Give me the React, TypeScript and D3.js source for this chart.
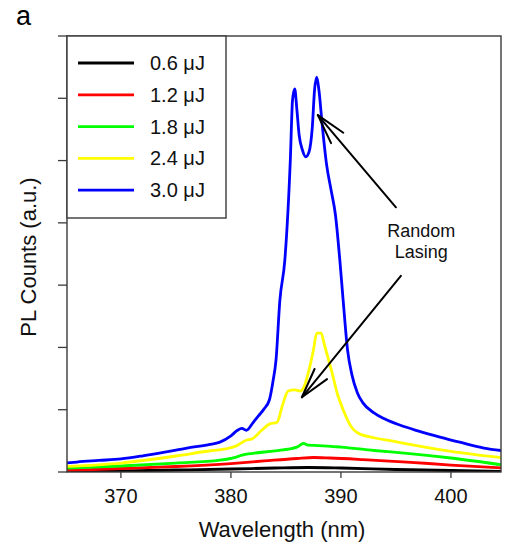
import React from 'react';
import * as d3 from 'd3';

// spectra: wavelength (nm) and PL counts (a.u., one unit per y tick)
const wl060 = [365, 370, 375, 380, 384, 387, 390, 395, 400, 404.8];
const pl060 = [0.008, 0.016, 0.032, 0.048, 0.064, 0.072, 0.064, 0.04, 0.024, 0.008];

const wl120 = [365, 370, 375, 380, 383, 386, 387.5, 389, 392, 396, 400, 404.8];
const pl120 = [0.024, 0.056, 0.088, 0.136, 0.177, 0.217, 0.233, 0.225, 0.2, 0.16, 0.112, 0.064];

const wl180 = [365, 370, 375, 379, 380.5, 381, 382, 384, 386, 386.6, 387, 388, 390, 393, 396, 400, 404.8];
const pl180 = [0.064, 0.096, 0.144, 0.19, 0.24, 0.27, 0.3, 0.34, 0.4, 0.46, 0.43, 0.425, 0.4, 0.345, 0.3, 0.225, 0.11];

const wl240 = [365, 370, 375, 378, 379.5, 380.5, 381.4, 381.9, 382.8, 383.5, 384.2, 384.7, 385.2, 385.8, 386.3, 386.6,
  387.1, 387.5, 387.8, 388.2, 388.5, 389.2, 389.7, 390.2, 391, 391.5, 393, 394.6, 397, 400, 404.8];
const pl240 = [0.088, 0.144, 0.257, 0.337, 0.37, 0.42, 0.51, 0.53, 0.67, 0.77, 0.8, 1.08, 1.3, 1.32, 1.3, 1.35,
  1.64, 1.96, 2.23, 2.23, 2.04, 1.59, 1.24, 1.0, 0.71, 0.63, 0.55, 0.5, 0.42, 0.33, 0.225];

const wl300 = [365, 366, 368, 370, 372, 374, 376, 378, 379, 380, 380.6, 381, 381.4, 382, 382.5, 383, 383.5, 383.8,
  384.1, 384.45, 384.9, 385.4, 385.6, 385.8, 386, 386.2, 386.5, 386.8, 387.1, 387.4, 387.6, 387.8, 388, 388.3,
  388.7, 389.1, 389.5, 389.9, 390.2, 390.6, 391, 391.5, 392, 393, 394, 395.4, 397, 399, 401, 403, 404.8];
const pl300 = [0.144, 0.16, 0.185, 0.21, 0.26, 0.32, 0.385, 0.44, 0.48, 0.58, 0.67, 0.7, 0.67, 0.79, 0.9, 1.01, 1.16, 1.43,
  1.8, 2.76, 3.4, 5.01, 5.97, 6.15, 5.81, 5.41, 5.17, 5.06, 5.14, 5.54, 6.13, 6.34, 6.13, 5.57,
  4.93, 4.53, 4.13, 3.4, 2.76, 1.96, 1.56, 1.27, 1.11, 0.95, 0.85, 0.75, 0.66, 0.56, 0.47, 0.385, 0.34];

const energies = ['0.6 μJ', '1.2 μJ', '1.8 μJ', '2.4 μJ', '3.0 μJ'];
const colors = ['#000000', '#ff0000', '#00ff00', '#ffff00', '#0000ff'];
const xTicks = [370, 380, 390, 400];
const yTicks = [0, 1, 2, 3, 4, 5, 6, 7];

// annotation arrows: [from, to] in data units
const arrows = [
  [[395.0, 4.25], [387.9, 5.73]],
  [[395.45, 3.15], [386.45, 1.2]],
];
const noteLines = ['Random', 'Lasing'];

const font = '"Liberation Sans", Arial, sans-serif';

export default function App() {
  const width = 505;
  const height = 542;
  const margin = { left: 67, top: 36, right: 4, bottom: 70 };

  const x = d3.scaleLinear().domain([365.1, 404.55]).range([margin.left, width - margin.right]);
  const y = d3.scaleLinear().domain([0, 7]).range([height - margin.bottom, margin.top]);

  const series = [
    [wl060, pl060],
    [wl120, pl120],
    [wl180, pl180],
    [wl240, pl240],
    [wl300, pl300],
  ];

  const line = d3.line<[number, number]>()
    .x(d => x(d[0]))
    .y(d => y(d[1]))
    .curve(d3.curveMonotoneX);

  const x0 = margin.left;
  const x1 = width - margin.right;
  const y0 = height - margin.bottom;
  const y1 = margin.top;

  const arrowHead = (from, to) => {
    const tx = x(to[0]), ty = y(to[1]);
    const ang = Math.atan2(y(from[1]) - ty, x(from[0]) - tx);
    const len = 31, spread = 15 * Math.PI / 180;
    return [ang - spread, ang + spread].map(a =>
      `M${tx + len * Math.cos(a)},${ty + len * Math.sin(a)}L${tx},${ty}`).join('');
  };

  const leg = { x: x0, y: y1, w: 159, h: 182, row: 31.8 };

  return (
    <svg width={width} height={height} style={{ position: 'absolute', left: 0, top: 0, background: '#fff' }}
      fontFamily={font}>
      <defs>
        <clipPath id="plot-clip">
          <rect x={x0} y={y1} width={x1 - x0} height={y0 - y1} />
        </clipPath>
      </defs>

      <text x={16} y={25} fontSize={27} fill="#000">a</text>

      <g clipPath="url(#plot-clip)">
        {series.map(([xs, ys], i) => (
          <path key={i} d={line(xs.map((v, j) => [v, ys[j]]))} fill="none"
            stroke={colors[i]} strokeWidth={2.8} strokeLinejoin="round" />
        ))}
      </g>

      {/* frame */}
      <rect x={x0} y={y1} width={x1 - x0} height={y0 - y1} fill="none" stroke="#3a3a3a" strokeWidth={1.4} />

      {yTicks.map(t => (
        <line key={t} x1={x0 - 9} x2={x0} y1={y(t)} y2={y(t)} stroke="#3a3a3a" strokeWidth={1.3} />
      ))}
      {xTicks.map(t => (
        <g key={t}>
          <line x1={x(t)} x2={x(t)} y1={y0} y2={y0 + 6} stroke="#3a3a3a" strokeWidth={1.3} />
          <text x={x(t)} y={503} fontSize={20} textAnchor="middle" fill="#111">{t}</text>
        </g>
      ))}

      <text x={(x0 + x1) / 2 - 2} y={537} fontSize={22} textAnchor="middle" fill="#111">Wavelength (nm)</text>
      <text transform={`translate(36,${(y0 + y1) / 2 + 3}) rotate(-90)`} fontSize={22} textAnchor="middle" fill="#111">
        PL Counts (a.u.)
      </text>

      {/* legend */}
      <rect x={leg.x} y={leg.y} width={leg.w} height={leg.h} fill="#fff" stroke="#3a3a3a" strokeWidth={1.4} />
      {energies.map((e, i) => (
        <g key={e} transform={`translate(0,${leg.y + 27 + i * leg.row})`}>
          <line x1={78} x2={134} y1={0} y2={0} stroke={colors[i]} strokeWidth={2.8} />
          <text x={150} y={7} fontSize={20} fill="#111">{e}</text>
        </g>
      ))}

      {/* annotation */}
      {arrows.map(([from, to], i) => (
        <g key={i} stroke="#000" strokeWidth={2} fill="none" strokeLinecap="round">
          <line x1={x(from[0])} y1={y(from[1])} x2={x(to[0])} y2={y(to[1])} />
          <path d={arrowHead(from, to)} />
        </g>
      ))}
      {noteLines.map((s, i) => (
        <text key={s} x={x(397.3)} y={237 + i * 21} fontSize={18} textAnchor="middle" fill="#111">{s}</text>
      ))}
    </svg>
  );
}
